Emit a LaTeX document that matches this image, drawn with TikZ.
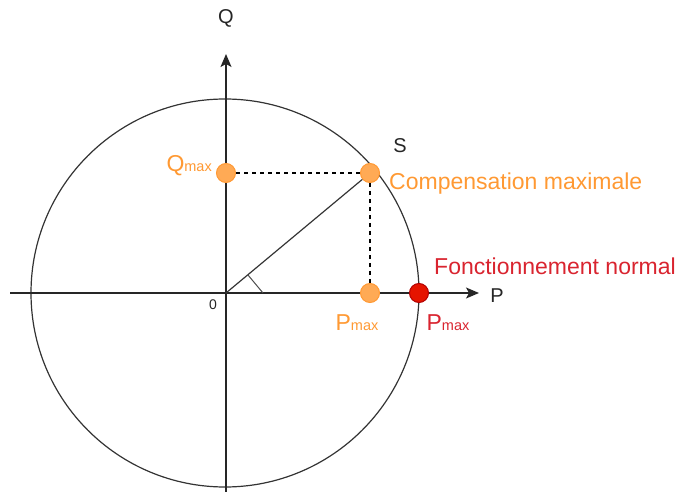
\documentclass[tikz,border=0pt]{standalone}
\usepackage{fontspec}
\setmainfont{Liberation Sans}
\usetikzlibrary{arrows.meta}
\definecolor{orfill}{HTML}{FFAA55}
\definecolor{orline}{HTML}{FF9933}
\definecolor{orText}{HTML}{FF9933}
\definecolor{rdfill}{HTML}{E51400}
\definecolor{rdline}{HTML}{B20000}
\definecolor{rdText}{HTML}{D9242F}
\newcommand{\bigtxt}{\fontsize{23}{23}\selectfont}
\newcommand{\smalltxt}{\fontsize{14.5}{14.5}\selectfont}
\tikzset{
  axis/.style={line width=1.3pt, draw=black!85, -{Stealth[length=13pt,width=11pt,inset=3pt]}},
  thinline/.style={line width=1.2pt, draw=black!80},
  dashline/.style={line width=1.1pt, draw=black, dash pattern=on 4pt off 4pt},
  odot/.style={circle, fill=orfill, draw=orline, line width=1pt, minimum size=19pt, inner sep=0},
  rdot/.style={circle, fill=rdfill, draw=rdline, line width=1pt, minimum size=19pt, inner sep=0},
  lbl/.style={inner sep=0, font=\bigtxt},
}
\begin{document}
\begin{tikzpicture}[x=1pt,y=-1pt]
\useasboundingbox (0,0) rectangle (681,492);
\coordinate (O) at (226,293);
\coordinate (xs) at (10,293);
\coordinate (xe) at (479,293);
\coordinate (ys) at (226,492);
\coordinate (ye) at (226,54);
\coordinate (a1) at (248,275);
\coordinate (a2) at (263,293);
% circle
\draw[thinline] (225,293) circle[radius=194];
% axes
\draw[axis] (xs) -- (xe);
\draw[axis] (ys) -- (ye);
% dots
\node[odot] (qm) at (226,173) {};
\node[odot] (S) at (370,173) {};
\node[odot] (pm) at (370,293) {};
\node[rdot] (pn) at (419,293) {};
% lines
\draw[thinline] (O) -- (S);
\draw[dashline] (qm) -- (S);
\draw[dashline] (S) -- (pm);
\draw[thinline, line width=1pt, draw=black!70] (a1) -- (a2);
% labels
\node[lbl, text=black!85] (Qlab) at (226,18) {\fontsize{20}{20}\selectfont Q};
\node[lbl, text=black!85] (Plab) at (497,296) {\fontsize{20}{20}\selectfont P};
\node[lbl, text=black!85] (Slab) at (400,146) {\fontsize{20}{20}\selectfont S};
\node[lbl, text=black!85] (zero) at (213,305) {\fontsize{14}{14}\selectfont 0};
\node[lbl, text=orText, anchor=east] (qml) at (212,166) {{\bigtxt Q}{\smalltxt max}};
\node[lbl, text=orText] (pml) at (357,323) {{\bigtxt P}{\smalltxt max}};
\node[lbl, text=rdText] (pnl) at (448,323) {{\bigtxt P}{\smalltxt max}};
\node[lbl, text=orText, anchor=west] (comp) at (389,184) {Compensation maximale};
\node[lbl, text=rdText, anchor=west] (fonc) at (434,266) {Fonctionnement normal};
\end{tikzpicture}
\end{document}
